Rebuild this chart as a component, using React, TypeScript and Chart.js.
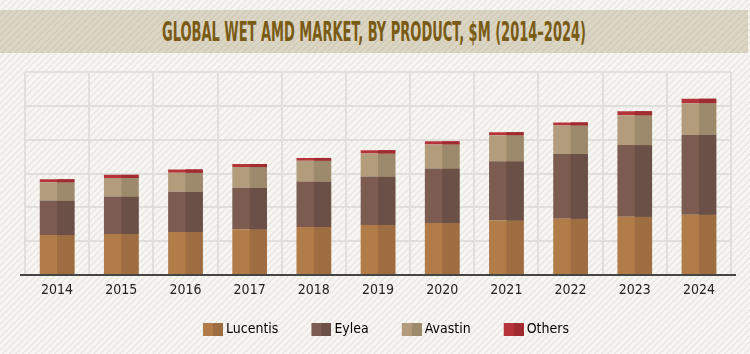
import React, { useEffect, useLayoutEffect, useRef } from "react";
import { Chart, registerables } from "chart.js";

Chart.register(...registerables);

const TITLE = "GLOBAL WET AMD MARKET, BY PRODUCT, $M (2014–2024)";
const years = ["2014", "2015", "2016", "2017", "2018", "2019", "2020", "2021", "2022", "2023", "2024"];
const lucentis = [1180, 1210, 1270, 1350, 1420, 1480, 1540, 1610, 1660, 1720, 1780];
const eylea = [1020, 1110, 1190, 1230, 1340, 1430, 1610, 1750, 1920, 2120, 2360];
const avastin = [540, 550, 560, 610, 620, 680, 710, 770, 840, 880, 940];
const others = [90, 90, 100, 90, 80, 100, 90, 90, 90, 120, 130];
const seriesNames = ["Lucentis", "Eylea", "Avastin", "Others"];
const lightColors = ["#b27c48", "#7c5c50", "#b39c7c", "#b5343a"];
const darkColors = ["#9e6e42", "#6b5048", "#9d8a6c", "#a02c31"];
const yMax = 6000;
const yStep = 1000;

const FONT = "'Liberation Sans Narrow', 'DejaVu Sans Condensed', 'Arial Narrow', sans-serif";
const GRID = "#e0dfdb";
const LEGEND_FONT = 14;
const LEGEND_BW = 32;

function makeSwatch(light: string, dark: string) {
  const W = LEGEND_BW + 8;
  const c = document.createElement("canvas");
  c.width = W;
  c.height = 13;
  const ctx = c.getContext("2d")!;
  ctx.fillStyle = light;
  ctx.fillRect(W - 20, 0, 10, 13);
  ctx.fillStyle = dark;
  ctx.fillRect(W - 10, 0, 10, 13);
  return c;
}

const twoTone = {
  id: "twoTone",
  afterDatasetsDraw(chart: any) {
    const ctx = chart.ctx;
    ctx.save();
    chart.data.datasets.forEach((_ds: any, i: number) => {
      const meta = chart.getDatasetMeta(i);
      if (meta.hidden) return;
      meta.data.forEach((bar: any) => {
        const { x, y, base, width } = bar.getProps(["x", "y", "base", "width"], true);
        ctx.fillStyle = darkColors[i];
        ctx.fillRect(x, Math.min(y, base), width / 2, Math.abs(base - y));
      });
    });
    const a = chart.chartArea;
    ctx.strokeStyle = "#454545";
    ctx.lineWidth = 2;
    ctx.beginPath();
    ctx.moveTo(a.left - 5, a.bottom);
    ctx.lineTo(a.right + 5, a.bottom);
    ctx.stroke();
    ctx.restore();
  },
};

export default function App() {
  const canvasRef = useRef<HTMLCanvasElement>(null);
  const titleRef = useRef<HTMLSpanElement>(null);

  useLayoutEffect(() => {
    const el = titleRef.current;
    if (el) {
      const w = el.offsetWidth;
      el.style.transform = `scaleX(${424 / w})`;
    }
  }, []);

  useEffect(() => {
    const canvas = canvasRef.current!;
    const seriesData = [lucentis, eylea, avastin, others];
    const swatches = seriesNames.map((_, i) => makeSwatch(lightColors[i], darkColors[i]));
    const chart = new Chart(canvas, {
      type: "bar",
      data: {
        labels: years,
        datasets: seriesNames.map((name, i) => ({
          label: name,
          data: seriesData[i],
          backgroundColor: lightColors[i],
          borderWidth: 0,
          barPercentage: 0.54,
          categoryPercentage: 1,
        })),
      },
      options: {
        responsive: false,
        animation: false,
        layout: { padding: { top: 72, left: 25, right: 19, bottom: 8 } },
        plugins: {
          title: { display: false },
          tooltip: { enabled: false },
          legend: {
            position: "bottom",
            labels: {
              usePointStyle: true,
              pointStyleWidth: LEGEND_BW,
              padding: 17,
              color: "#2b2b2b",
              font: { family: FONT, size: LEGEND_FONT },
              generateLabels: () =>
                seriesNames.map((name, i) => ({
                  text: name,
                  pointStyle: swatches[i],
                  fillStyle: lightColors[i],
                  strokeStyle: "rgba(0,0,0,0)",
                  lineWidth: 0,
                  hidden: false,
                  datasetIndex: i,
                })),
            },
          },
        },
        scales: {
          x: {
            stacked: true,
            offset: true,
            grid: { offset: true, color: GRID, lineWidth: 2, drawTicks: false },
            border: { display: false },
            ticks: { color: "#222222", font: { family: FONT, size: 14, lineHeight: 1 }, padding: 8 },
          },
          y: {
            stacked: true,
            min: 0,
            max: yMax,
            ticks: { display: false, stepSize: yStep },
            grid: { color: GRID, lineWidth: 2, drawTicks: false },
            border: { display: false },
          },
        },
      } as any,
      plugins: [twoTone],
    });
    return () => chart.destroy();
  }, []);

  const pageBg =
    "repeating-linear-gradient(135deg, #f6f5f1 0px, #f6f5f1 3.2px, #e9e8e2 3.2px, #e9e8e2 4.6px)";
  const bandBg =
    "repeating-linear-gradient(135deg, #dbd5c3 0px, #dbd5c3 3.2px, #d2cbb8 3.2px, #d2cbb8 4.6px)";

  return (
    <div style={{ position: "absolute", left: 0, top: 0, width: 750, height: 354, background: pageBg, overflow: "hidden" }}>
      <div
        style={{
          position: "absolute",
          left: 0,
          top: 10,
          width: 748,
          height: 43,
          background: bandBg,
          display: "flex",
          alignItems: "center",
          justifyContent: "center",
          overflow: "hidden",
        }}
      >
        <span
          ref={titleRef}
          style={{
            display: "inline-block",
            whiteSpace: "nowrap",
            fontFamily: FONT,
            fontSize: 26,
            fontWeight: "bold",
            lineHeight: "26px",
            color: "#7a5b14",
            transformOrigin: "center center",
          }}
        >
          {TITLE}
        </span>
      </div>
      <canvas ref={canvasRef} width={750} height={354} style={{ position: "absolute", left: 0, top: 0, width: 750, height: 354 }} />
    </div>
  );
}
